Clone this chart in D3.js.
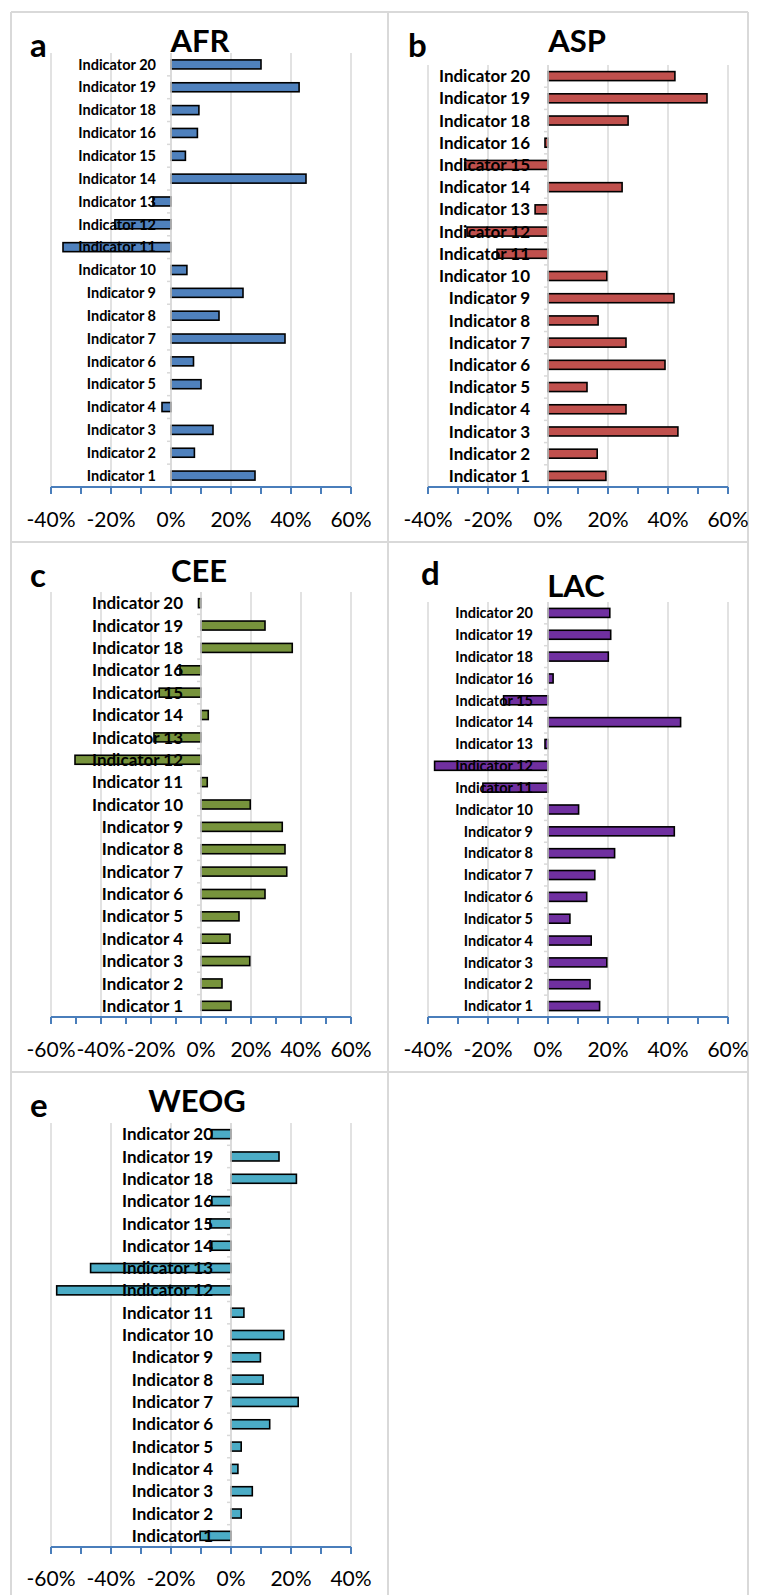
<!DOCTYPE html>
<html>
<head>
<meta charset="utf-8">
<script src="https://cdn.jsdelivr.net/npm/d3@7"></script>
<style>
  body { margin: 0; background: #fff; }
  svg text { font-family: Lato, "Open Sans", sans-serif; }
</style>
</head>
<body>
<svg id="chart" width="760" height="1595"></svg>
<script>
// Categories (Indicator 17 is absent in the source)
const categories = ['Indicator 1', 'Indicator 2', 'Indicator 3', 'Indicator 4', 'Indicator 5',
  'Indicator 6', 'Indicator 7', 'Indicator 8', 'Indicator 9', 'Indicator 10', 'Indicator 11',
  'Indicator 12', 'Indicator 13', 'Indicator 14', 'Indicator 15', 'Indicator 16',
  'Indicator 18', 'Indicator 19', 'Indicator 20'];

// Values in percent, same order as categories
const afr = [28, 7.8, 14, -3, 10, 7.5, 38, 16, 24, 5.3, -36, -18.7, -6, 45, 4.8, 8.8, 9.3, 42.7, 30];
const asp = [19.3, 16.4, 43.3, 26, 13, 39, 26, 16.7, 42, 19.6, -17, -27, -4.3, 24.7, -27.7, -1, 26.7, 53, 42.3];
const cee = [12, 8.4, 19.5, 11.6, 15.2, 25.6, 34.3, 33.6, 32.5, 19.7, 2.5, -50.4, -18.8, 2.9, -16.7, -8.4, 36.5, 25.6, -1];
const lac = [17.2, 14, 19.6, 14.4, 7.3, 12.9, 15.6, 22.2, 42.1, 10.2, -21.7, -37.8, -1, 44.2, -14.8, 1.7, 20.1, 20.9, 20.6];
const weog = [-10.3, 3.4, 7.1, 2.3, 3.4, 12.9, 22.4, 10.7, 9.8, 17.6, 4.3, -58.1, -46.8, -6.4, -7, -6.4, 21.8, 16, -6.4];

// Tick values per panel
const ticksA = [-40, -20, 0, 20, 40, 60];
const ticksC = [-60, -40, -20, 0, 20, 40, 60];
const ticksE = [-60, -40, -20, 0, 20, 40];

const panels = [
  { letter: 'a', title: 'AFR', values: afr, ticks: ticksA, color: '#4f81bd',
    x0: 51, x1: 351, top: 53, axisY: 487, labelSize: 14.5, labelGap: 15,
    tickY: 527, titleX: 200, titleY: 52, letterX: 30, letterY: 57 },
  { letter: 'b', title: 'ASP', values: asp, ticks: ticksA, color: '#c0504d',
    x0: 428, x1: 728, top: 65, axisY: 487, labelSize: 17, labelGap: 18,
    tickY: 527, titleX: 577, titleY: 52, letterX: 408, letterY: 57 },
  { letter: 'c', title: 'CEE', values: cee, ticks: ticksC, color: '#77933c',
    x0: 51, x1: 351, top: 592, axisY: 1017, labelSize: 17, labelGap: 18,
    tickY: 1057, titleX: 199, titleY: 582, letterX: 30, letterY: 587 },
  { letter: 'd', title: 'LAC', values: lac, ticks: ticksA, color: '#7030a0',
    x0: 428, x1: 728, top: 602, axisY: 1017, labelSize: 14.5, labelGap: 15,
    tickY: 1057, titleX: 576, titleY: 597, letterX: 421, letterY: 585 },
  { letter: 'e', title: 'WEOG', values: weog, ticks: ticksE, color: '#4bacc6',
    x0: 51, x1: 351, top: 1123, axisY: 1547, labelSize: 17, labelGap: 18,
    tickY: 1586, titleX: 197, titleY: 1112, letterX: 30, letterY: 1117 }
];

const svg = d3.select('#chart');

// Table cell borders
const borders = [
  [11, 12, 748, 12], [11, 542, 748, 542], [11, 1072, 748, 1072],
  [11, 12, 11, 1595], [388, 12, 388, 1595], [748, 12, 748, 1595]
];
svg.append('g')
  .selectAll('line')
  .data(borders)
  .enter()
  .append('line')
  .attr('x1', (d) => d[0]).attr('y1', (d) => d[1])
  .attr('x2', (d) => d[2]).attr('y2', (d) => d[3])
  .attr('stroke', '#d9d9d9')
  .attr('stroke-width', 2);

panels.forEach((p) => {
  const g = svg.append('g');
  const domain = [p.ticks[0], p.ticks[p.ticks.length - 1]];
  const x = d3.scaleLinear().domain(domain).range([p.x0, p.x1]);
  const y = d3.scaleBand()
    .domain(categories.slice().reverse())
    .range([p.top, p.axisY]);
  const rows = categories.map((c, i) => ({ cat: c, value: p.values[i] }));
  const barH = 9;

  // Vertical gridlines
  g.append('g')
    .selectAll('line')
    .data(p.ticks)
    .enter()
    .append('line')
    .attr('x1', (d) => x(d)).attr('x2', (d) => x(d))
    .attr('y1', p.top).attr('y2', p.axisY)
    .attr('stroke', '#d9d9d9')
    .attr('stroke-width', 1.5);

  // Bars
  g.append('g')
    .selectAll('rect')
    .data(rows)
    .enter()
    .append('rect')
    .attr('x', (d) => Math.min(x(0), x(d.value)))
    .attr('width', (d) => Math.abs(x(d.value) - x(0)))
    .attr('y', (d) => y(d.cat) + y.bandwidth() / 2 - barH / 2)
    .attr('height', barH)
    .attr('fill', p.color)
    .attr('stroke', '#000')
    .attr('stroke-width', 1.6);

  // Category axis at zero
  g.append('line')
    .attr('x1', x(0)).attr('x2', x(0))
    .attr('y1', p.top).attr('y2', p.axisY)
    .attr('stroke', '#d9d9d9')
    .attr('stroke-width', 1.5);
  g.append('g')
    .selectAll('line')
    .data(y.domain().slice(1))
    .enter()
    .append('line')
    .attr('x1', x(0) - 4).attr('x2', x(0))
    .attr('y1', (d) => y(d)).attr('y2', (d) => y(d))
    .attr('stroke', '#d9d9d9')
    .attr('stroke-width', 1.5);

  // Category labels (drawn over the bars, as in the original)
  g.append('g')
    .selectAll('text')
    .data(rows)
    .enter()
    .append('text')
    .attr('x', x(0) - p.labelGap)
    .attr('y', (d) => y(d.cat) + y.bandwidth() / 2)
    .attr('dy', '0.36em')
    .attr('text-anchor', 'end')
    .attr('font-size', p.labelSize)
    .attr('font-weight', 'bold')
    .attr('fill', '#000')
    .text((d) => d.cat);

  // Value axis at bottom
  const minor = d3.range(domain[0], domain[1] + 1, 10);
  g.append('line')
    .attr('x1', p.x0).attr('x2', p.x1)
    .attr('y1', p.axisY).attr('y2', p.axisY)
    .attr('stroke', '#4a7ebb')
    .attr('stroke-width', 2);
  g.append('g')
    .selectAll('line')
    .data(minor)
    .enter()
    .append('line')
    .attr('x1', (d) => x(d)).attr('x2', (d) => x(d))
    .attr('y1', p.axisY).attr('y2', p.axisY + 7)
    .attr('stroke', '#4a7ebb')
    .attr('stroke-width', 2);
  g.append('g')
    .selectAll('text')
    .data(p.ticks)
    .enter()
    .append('text')
    .attr('x', (d) => x(d))
    .attr('y', p.tickY)
    .attr('text-anchor', 'middle')
    .attr('font-size', 21)
    .attr('fill', '#000')
    .text((d) => d + '%');

  // Title and panel letter
  g.append('text')
    .attr('x', p.titleX)
    .attr('y', p.titleY)
    .attr('text-anchor', 'middle')
    .attr('font-size', 31)
    .attr('font-weight', 'bold')
    .text(p.title);
  g.append('text')
    .attr('x', p.letterX)
    .attr('y', p.letterY)
    .attr('font-size', 33)
    .attr('font-weight', 'bold')
    .text(p.letter);
});
</script>
</body>
</html>
